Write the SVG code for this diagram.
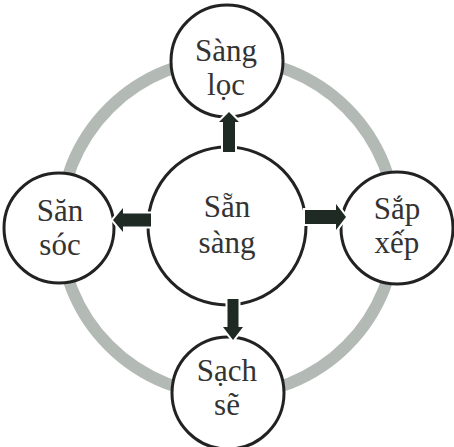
<svg xmlns="http://www.w3.org/2000/svg" width="454" height="447" viewBox="0 0 454 447">
<style>
.ring{fill:none;stroke:#b3bab6;stroke-width:12}
.node circle{fill:#fff;stroke:#222;stroke-width:3}
.node text{font-family:"Liberation Serif","Times New Roman",serif;font-size:31px;fill:#333;text-anchor:middle}
.arrow{fill:#1f2a25;stroke:#fff;stroke-width:4;paint-order:stroke;stroke-linejoin:miter}
</style>
<rect width="454" height="447" fill="#fff"/>
<circle class="ring" cx="228" cy="227" r="168"/>
<g id="center" class="node">
<circle cx="227" cy="226" r="79"/>
<text x="227" y="217">Sẵn</text>
<text x="227" y="253">sàng</text>
</g>
<g id="top" class="node">
<circle cx="227" cy="61" r="56"/>
<text x="226" y="61">Sàng</text>
<text x="226" y="95">lọc</text>
</g>
<g id="left" class="node">
<circle cx="59" cy="228" r="55"/>
<text x="60" y="221">Săn</text>
<text x="60" y="255">sóc</text>
</g>
<g id="right" class="node">
<circle cx="397" cy="228" r="56"/>
<text x="397" y="219">Sắp</text>
<text x="397" y="253">xếp</text>
</g>
<g id="bottom" class="node">
<circle cx="228" cy="393" r="56"/>
<text x="227" y="381">Sạch</text>
<text x="227" y="415">sẽ</text>
</g>
<g id="connectors">
<polygon class="arrow" points="229,112 239,122 235,122 235,152 223,152 223,122 219,122"/>
<polygon class="arrow" points="113,220 123,208 123,213.5 151,213.5 151,226.5 123,226.5 123,232"/>
<polygon class="arrow" points="346,217 336,204 336,210 305,210 305,224 336,224 336,230"/>
<polygon class="arrow" points="233,340 243,327 238.5,327 238.5,299 227.5,299 227.5,327 223,327"/>
</g>
</svg>
